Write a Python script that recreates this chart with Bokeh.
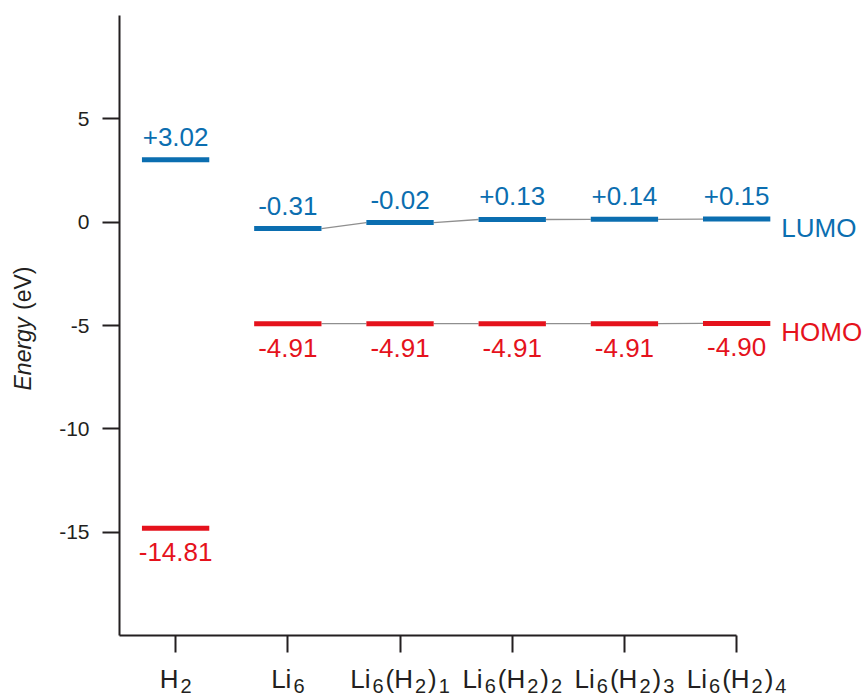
import math
from bokeh.plotting import figure
from bokeh.models import ColumnDataSource, LabelSet, Label, FixedTicker, Range1d
from bokeh.core.properties import value
from bokeh.embed import file_html
from bokeh.resources import INLINE

# Frontier orbital energies (eV)
categories = ["H2", "Li6", "Li6(H2)1", "Li6(H2)2", "Li6(H2)3", "Li6(H2)4"]
lumo = [3.02, -0.31, -0.02, 0.13, 0.14, 0.15]
homo = [-14.81, -4.91, -4.91, -4.91, -4.91, -4.90]

# Category tick labels as (text, is_subscript) pieces
tick_label_parts = [
    [("H", 0), ("2", 1)],
    [("Li", 0), ("6", 1)],
    [("Li", 0), ("6", 1), ("(H", 0), ("2", 1), (")", 0), ("1", 1)],
    [("Li", 0), ("6", 1), ("(H", 0), ("2", 1), (")", 0), ("2", 1)],
    [("Li", 0), ("6", 1), ("(H", 0), ("2", 1), (")", 0), ("3", 1)],
    [("Li", 0), ("6", 1), ("(H", 0), ("2", 1), (")", 0), ("4", 1)],
]
y_ticks = [-15, -10, -5, 0, 5]
y_lo, y_hi = -20, 10

FONT = "Liberation Sans"
BLUE = "#0b6eb0"
RED = "#e5121c"
INK = "#231f20"
HALF = 0.3  # half width of a level bar, in category units

xs = list(range(len(categories)))
x_lo, x_hi = -0.5, xs[-1]

# The frame fills the canvas; axes sit at fixed data positions inside it
p = figure(width=868, height=697, output_backend="svg", toolbar_location=None,
           x_range=Range1d(-1.5606, 6.175), y_range=Range1d(-23.0, 10.726),
           min_border=0)
p.outline_line_color = None
p.xgrid.visible = False
p.ygrid.visible = False
p.background_fill_color = "white"
p.border_fill_color = "white"

for ax in (p.xaxis[0], p.yaxis[0]):
    ax.axis_line_width = 2
    ax.axis_line_color = INK
    ax.major_tick_line_width = 2
    ax.major_tick_line_color = INK
    ax.major_tick_out = 17
    ax.major_tick_in = 0
    ax.minor_tick_line_color = None

p.xaxis.fixed_location = y_lo
p.xaxis.bounds = (x_lo, x_hi)
p.xaxis.ticker = FixedTicker(ticks=xs)
p.xaxis.major_label_overrides = {i: "" for i in xs}
p.xaxis.major_label_text_font_size = "1px"

p.yaxis.fixed_location = x_lo
p.yaxis.bounds = (y_lo, y_hi)
p.yaxis.ticker = FixedTicker(ticks=y_ticks)
p.yaxis.major_label_overrides = {t: str(t) for t in y_ticks}
p.yaxis.major_label_text_font = FONT
p.yaxis.major_label_text_font_size = "21px"
p.yaxis.major_label_text_color = INK
p.yaxis.major_label_standoff = 13

# Thin grey connectors between neighbouring Li6 levels
for series in (lumo, homo):
    p.segment(x0=[x + HALF for x in xs[1:-1]], x1=[x + 1 - HALF for x in xs[1:-1]],
              y0=series[1:-1], y1=series[2:], line_color="#8f8f8f", line_width=1.3)

# Level bars
p.segment(x0=[x - HALF for x in xs], x1=[x + HALF for x in xs], y0=lumo, y1=lumo,
          line_color=BLUE, line_width=5, line_cap="butt")
p.segment(x0=[x - HALF for x in xs], x1=[x + HALF for x in xs], y0=homo, y1=homo,
          line_color=RED, line_width=5, line_cap="butt")

# Value labels
lumo_src = ColumnDataSource(dict(x=xs, y=lumo, t=[f"{v:+.2f}" for v in lumo]))
homo_src = ColumnDataSource(dict(x=xs, y=homo, t=[f"{v:.2f}" for v in homo]))
p.add_layout(LabelSet(x="x", y="y", text="t", source=lumo_src, y_offset=14,
                      text_align="center", text_baseline="alphabetic",
                      text_font=value(FONT), text_font_size=value("26px"),
                      text_color=BLUE))
p.add_layout(LabelSet(x="x", y="y", text="t", source=homo_src, y_offset=-33,
                      text_align="center", text_baseline="alphabetic",
                      text_font=value(FONT), text_font_size=value("26px"),
                      text_color=RED))

# Series names at the right end
last = xs[-1] + HALF
p.add_layout(Label(x=last, y=lumo[-1], text="LUMO", x_offset=11, y_offset=-9,
                   text_align="left", text_baseline="alphabetic",
                   text_font=FONT, text_font_size="26px", text_color=BLUE))
p.add_layout(Label(x=last, y=homo[-1], text="HOMO", x_offset=11, y_offset=-9,
                   text_align="left", text_baseline="alphabetic",
                   text_font=FONT, text_font_size="26px", text_color=RED))

# Category labels with subscripts, laid out piece by piece
MAIN, SUB, GAP = 26, 20, 2
adv = {"H": 0.722, "L": 0.556, "i": 0.222, "(": 0.333, ")": 0.333}
def seg_width(s, sub):
    size = SUB if sub else MAIN
    return sum(adv.get(ch, 0.556) for ch in s) * size

pieces = {0: dict(x=[], y=[], t=[], dx=[]), 1: dict(x=[], y=[], t=[], dx=[])}
for x, parts in zip(xs, tick_label_parts):
    widths = [seg_width(s, sub) for s, sub in parts]
    total = sum(widths) + GAP * (len(parts) - 1)
    off = -total / 2
    for (s, sub), w in zip(parts, widths):
        d = pieces[sub]
        d["x"].append(x)
        d["y"].append(y_lo)
        d["t"].append(s)
        d["dx"].append(off)
        off += w + GAP

for sub, dy, size in ((0, -52, MAIN), (1, -57, SUB)):
    p.add_layout(LabelSet(x="x", y="y", text="t",
                          source=ColumnDataSource(pieces[sub]),
                          x_offset="dx", y_offset=dy,
                          text_font_size=value(f"{size}px"), text_align="left",
                          text_baseline="alphabetic", text_font=value(FONT),
                          text_color=INK))

# Vertical axis title: italic quantity, upright unit
p.add_layout(Label(x=-1.364, y=-8.145, text="Energy", angle=math.pi / 2,
                   text_align="left", text_baseline="alphabetic",
                   text_font=FONT, text_font_size="23px",
                   text_font_style="italic", text_color=INK))
p.add_layout(Label(x=-1.364, y=-4.25, text="(eV)", angle=math.pi / 2,
                   text_align="left", text_baseline="alphabetic",
                   text_font=FONT, text_font_size="23px", text_color=INK))

open("out.html", "w").write(file_html(p, INLINE))
